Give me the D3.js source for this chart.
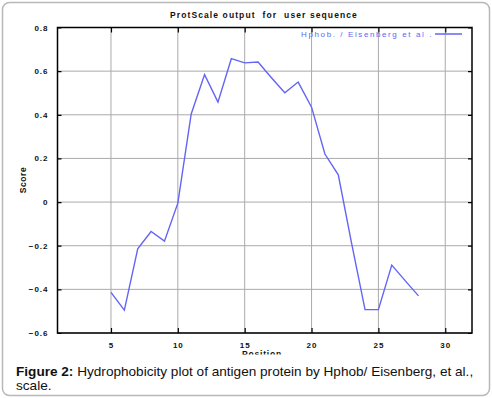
<!DOCTYPE html>
<html>
<head>
<meta charset="utf-8">
<script src="https://cdn.jsdelivr.net/npm/d3@7"></script>
<style>
  body { margin: 0; background: #fff; }
  svg text { font-family: "Liberation Sans", Arial, sans-serif; }
</style>
</head>
<body>
<div id="app"></div>
<script>
// data
const positions = [5, 6, 7, 8, 9, 10, 11, 12, 13, 14, 15, 16, 17, 18, 19, 20, 21, 22, 23, 24, 25, 26, 27, 28];
const scores = [-0.414, -0.495, -0.214, -0.135, -0.179, -0.005, 0.404, 0.584, 0.458, 0.657, 0.638, 0.642, 0.57, 0.501, 0.55, 0.435, 0.22, 0.125, -0.19, -0.493, -0.493, -0.289, -0.36, -0.43];
const xTicks = [5, 10, 15, 20, 25, 30];
const yTicks = [0.8, 0.6, 0.4, 0.2, 0, -0.2, -0.4, -0.6];
const title = "ProtScale output  for  user sequence";
const legendLabel = "Hphob.  / Eisenberg  et  al .";

const W = 492, H = 398;
const margin = { top: 27.5, right: 20, bottom: 65, left: 57.5 };
const width = 472 - margin.left;
const height = 333 - margin.top;

const svg = d3.select('#app').append('svg')
  .attr('width', W).attr('height', H);

// outer rounded frame
svg.append('rect')
  .attr('x', 2.5).attr('y', 2.5).attr('width', W - 5).attr('height', H - 5)
  .attr('rx', 7).attr('fill', '#fff').attr('stroke', '#b8b8b8').attr('stroke-width', 1.5);

svg.append('clipPath').attr('id', 'cut')
  .append('rect').attr('x', 0).attr('y', 0).attr('width', W).attr('height', 354.5);

const chart = svg.append('g').attr('clip-path', 'url(#cut)');

const xScale = d3.scaleLinear().domain([1, 32]).range([0, width]);
const yScale = d3.scaleLinear().domain([-0.6, 0.8]).range([height, 0]);

const g = chart.append('g')
  .attr('transform', `translate(${margin.left}, ${margin.top})`);

// grid
g.selectAll('.hgrid').data(yTicks).enter().append('line')
  .attr('x1', 0).attr('x2', width)
  .attr('y1', d => yScale(d)).attr('y2', d => yScale(d))
  .attr('stroke', '#aaa').attr('stroke-width', 1);
g.selectAll('.vgrid').data(xTicks).enter().append('line')
  .attr('y1', 0).attr('y2', height)
  .attr('x1', d => xScale(d)).attr('x2', d => xScale(d))
  .attr('stroke', '#aaa').attr('stroke-width', 1);

// axes
const yAxis = g.append('g').call(d3.axisLeft(yScale).tickValues(yTicks).tickSize(-4).tickPadding(9)
  .tickFormat(d => d === 0 ? '0' : d3.format('.1f')(d)));
const yAxisR = g.append('g').attr('transform', `translate(${width},0)`)
  .call(d3.axisRight(yScale).tickValues(yTicks).tickSize(-4).tickFormat(''));
const xAxis = g.append('g').attr('transform', `translate(0,${height})`)
  .call(d3.axisBottom(xScale).tickValues(xTicks).tickSize(-5).tickPadding(9));
const xAxisT = g.append('g')
  .call(d3.axisTop(xScale).tickValues(xTicks).tickSize(-5).tickFormat(''));

[yAxis, yAxisR, xAxis, xAxisT].forEach(a => {
  a.select('.domain').remove();
  a.selectAll('.tick line').attr('stroke', '#000').attr('stroke-width', 1.2);
  a.selectAll('text')
    .attr('fill', '#111').attr('font-size', 8).attr('font-weight', 'bold')
    .style('letter-spacing', '1px');
});

g.append('rect').attr('width', width).attr('height', height)
  .attr('fill', 'none').attr('stroke', '#000').attr('stroke-width', 1.5);

// line
const line = d3.line().x((d, i) => xScale(positions[i])).y(d => yScale(d));
g.append('path').datum(scores)
  .attr('d', line).attr('fill', 'none')
  .attr('stroke', '#6464f5').attr('stroke-width', 1.4);

// legend
g.append('text').attr('x', width - 39).attr('y', 9)
  .attr('text-anchor', 'end').attr('fill', '#6464f5')
  .attr('font-size', 8).style('letter-spacing', '1.6px')
  .text(legendLabel);
g.append('line').attr('x1', width - 37).attr('x2', width - 10)
  .attr('y1', 6.5).attr('y2', 6.5)
  .attr('stroke', '#6464f5').attr('stroke-width', 1.4);

// title and axis labels
chart.append('text').attr('x', 264).attr('y', 18)
  .attr('text-anchor', 'middle').attr('font-size', 8.5).attr('font-weight', 'bold')
  .style('letter-spacing', '1.1px').style('white-space', 'pre').attr('fill', '#111')
  .text(title);
chart.append('text')
  .attr('transform', 'translate(26,180) rotate(-90)')
  .attr('text-anchor', 'middle').attr('font-size', 8.5).attr('font-weight', 'bold')
  .style('letter-spacing', '0.6px').attr('fill', '#111')
  .text('Score');
chart.append('text').attr('x', 262).attr('y', 357)
  .attr('text-anchor', 'middle').attr('font-size', 8.5).attr('font-weight', 'bold')
  .style('letter-spacing', '0.8px').attr('fill', '#111')
  .text('Position');

// caption
const cap = svg.append('text').attr('x', 16).attr('y', 376)
  .attr('font-size', 13.6).attr('fill', '#111');
cap.append('tspan').attr('font-weight', 'bold').text('Figure 2:');
cap.append('tspan').text(' Hydrophobicity plot of antigen protein by Hphob/ Eisenberg, et al.,');
svg.append('text').attr('x', 16).attr('y', 389.5)
  .attr('font-size', 13.6).attr('fill', '#111').text('scale.');
</script>
</body>
</html>
